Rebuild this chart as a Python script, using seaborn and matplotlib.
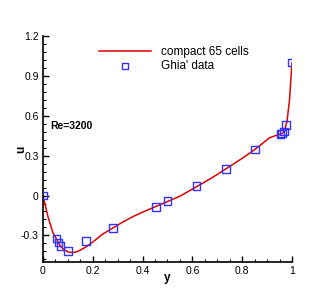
import numpy as np
import pandas as pd
import matplotlib
matplotlib.use('Agg')
import matplotlib.pyplot as plt
import seaborn as sns
from matplotlib.ticker import MultipleLocator

# compact scheme solution
y_line = [0.0, 0.01, 0.02, 0.04, 0.055, 0.07, 0.08, 0.10, 0.12, 0.14, 0.17, 0.20,
          0.24, 0.28, 0.32, 0.36, 0.40, 0.45, 0.50, 0.55, 0.62, 0.68, 0.73, 0.80,
          0.85, 0.88, 0.91, 0.94, 0.96, 0.97, 0.98, 0.99, 1.0]
u_line = [0.0, -0.08, -0.16, -0.28, -0.33, -0.38, -0.40, -0.425, -0.43, -0.42, -0.39, -0.35,
          -0.29, -0.245, -0.20, -0.16, -0.125, -0.085, -0.045, -0.005, 0.07, 0.135, 0.195, 0.28,
          0.345, 0.39, 0.435, 0.455, 0.465, 0.49, 0.56, 0.72, 1.0]

# Ghia et al. Re=3200
y_ghia = [1.0, 0.9766, 0.9688, 0.9609, 0.9531, 0.8516, 0.7344, 0.6172, 0.5,
          0.4531, 0.2813, 0.1719, 0.1016, 0.0703, 0.0625, 0.0547, 0.0]
u_ghia = [1.0, 0.53236, 0.48296, 0.46547, 0.46101, 0.34682, 0.19791, 0.07156, -0.04272,
          -0.08664, -0.24427, -0.34323, -0.41933, -0.37827, -0.35344, -0.32407, 0.0]

xticks = [0, 0.2, 0.4, 0.6, 0.8, 1.0]
xtick_labels = ['0', '0.2', '0.4', '0.6', '0.8', '1']
yticks = [-0.3, 0, 0.3, 0.6, 0.9, 1.2]
ytick_labels = ['-0.3', '0', '0.3', '0.6', '0.9', '1.2']

df_line = pd.DataFrame({'y': y_line, 'u': u_line})
df_ghia = pd.DataFrame({'y': y_ghia, 'u': u_ghia})

plt.rcParams['font.family'] = ['Liberation Sans', 'DejaVu Sans']

fig = plt.figure(figsize=(3.32, 2.96), dpi=100)
ax = fig.add_axes([0.1295, 0.115, 0.75, 0.763])

sns.lineplot(data=df_line, x='y', y='u', sort=False, color='#e00000', lw=1.1,
             label='compact 65 cells', ax=ax)
sns.scatterplot(data=df_ghia, x='y', y='u', marker='s', s=30, facecolor='none',
                edgecolor='#3333ff', linewidth=1.0, label='Ghia\' data', ax=ax, zorder=3)

ax.set_xlim(0, 1)
ax.set_ylim(-0.5, 1.2)
ax.xaxis.set_minor_locator(MultipleLocator(0.05))
ax.yaxis.set_minor_locator(MultipleLocator(0.06))
ax.set_xticks(xticks)
ax.set_xticklabels(xtick_labels)
ax.set_yticks(yticks)
ax.set_yticklabels(ytick_labels)
ax.tick_params(which='major', direction='in', length=4, width=1, labelsize=7.5, pad=3)
ax.tick_params(which='minor', direction='in', length=2, width=0.8)
for s in ['top', 'right']:
    ax.spines[s].set_visible(False)
for s in ['left', 'bottom']:
    ax.spines[s].set_linewidth(1.2)

ax.set_xlabel('y', fontsize=8.5, fontweight='bold')
ax.xaxis.set_label_coords(0.5, -0.045)
ax.set_ylabel('u', fontsize=8.5, fontweight='bold')
ax.yaxis.set_label_coords(-0.065, 0.5)
ax.text(0.03, 0.52, 'Re=3200', fontsize=7.5, fontweight='bold', va='center', ha='left')

ax.legend(loc='upper left', bbox_to_anchor=(0.28, 0.865), bbox_transform=fig.transFigure,
          frameon=False, fontsize=8.5, borderpad=0, handlelength=4.4,
          handletextpad=0.9, labelspacing=0.2, markerscale=0.8)

fig.savefig('out.png', dpi=100)
